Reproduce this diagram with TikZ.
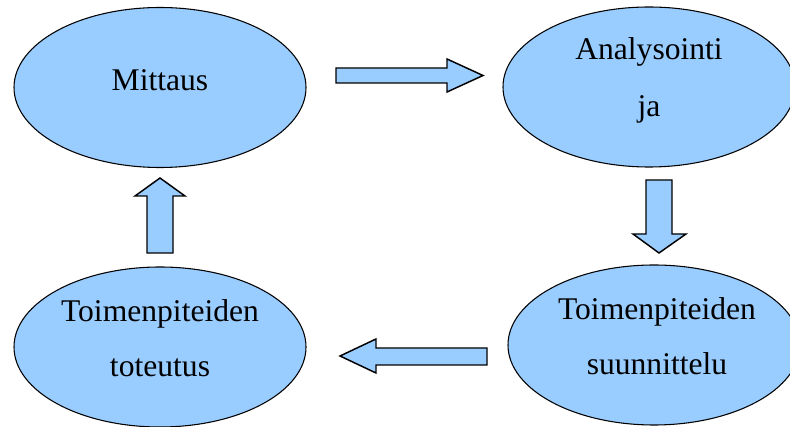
\documentclass[tikz,border=0pt]{standalone}
\usepackage{fontspec}
\setmainfont{Liberation Serif}
\usetikzlibrary{shapes.geometric}
\definecolor{lblue}{HTML}{99CCFF}
\tikzset{
  oval/.style={ellipse, draw=black, line width=0.8pt, fill=lblue, minimum width=219pt, minimum height=120pt, inner sep=0pt},
  lbl/.style={anchor=base, inner sep=0pt, font=\fontsize{23.7}{28}\selectfont},
  blockarrow/.style={draw=black, line width=1.1pt, fill=lblue, line join=miter}
}
\begin{document}
\begin{tikzpicture}[x=0.75pt,y=-0.75pt]
\useasboundingbox (0,0) rectangle (790,427);
\node[oval] (m) at (160,87.5) {};
\node[oval] (a) at (649,87) {};
\node[oval] (t) at (160,347) {};
\node[oval] (s) at (654,345) {};
\node[lbl] (mt) at (160,91) {Mittaus};
\node[lbl] (at1) at (649,60) {Analysointi};
\node[lbl] (at2) at (649,117) {ja};
\node[lbl] (tt1) at (160,322) {Toimenpiteiden};
\node[lbl] (tt2) at (160,377) {toteutus};
\node[lbl] (st1) at (657,320) {Toimenpiteiden};
\node[lbl] (st2) at (657,375) {suunnittelu};
% right arrow
\draw[blockarrow] (336,68) -- (447,68) -- (447,59) -- (483,75.5) -- (447,92) -- (447,83) -- (336,83) -- cycle;
% down arrow
\draw[blockarrow] (646,180) -- (672,180) -- (672,234) -- (686,234) -- (659,253) -- (633,234) -- (646,234) -- cycle;
% left arrow
\draw[blockarrow] (487,348) -- (376,348) -- (376,339) -- (340,356) -- (376,373) -- (376,365) -- (487,365) -- cycle;
% up arrow
\draw[blockarrow] (147,253) -- (147,196) -- (135,196) -- (160,178) -- (185,196) -- (173,196) -- (173,253) -- cycle;
\end{tikzpicture}
\end{document}
